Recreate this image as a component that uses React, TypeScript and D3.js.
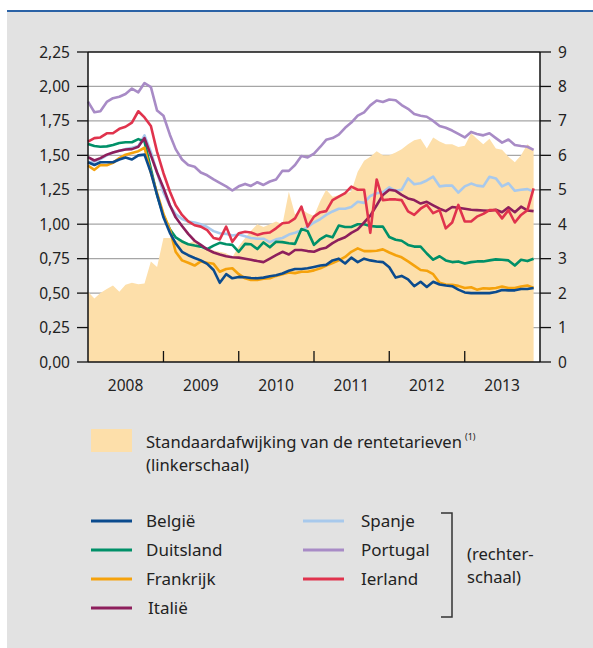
import * as d3 from "d3"
import React from "react"

// monthly observations, Jan 2008 .. Dec 2013
const months = d3.timeMonths(new Date(2008, 0, 1), new Date(2014, 0, 1))
const years = ["2008", "2009", "2010", "2011", "2012", "2013"]
const leftTicks = [0, 0.25, 0.5, 0.75, 1, 1.25, 1.5, 1.75, 2, 2.25]
const rightTicks = [0, 1, 2, 3, 4, 5, 6, 7, 8, 9]

// standard deviation (left scale)
const spread = [
  0.51, 0.46, 0.50, 0.53, 0.555, 0.51, 0.56, 0.575, 0.565, 0.57, 0.73, 0.69,
  0.90, 0.90, 0.88, 0.89, 0.86, 0.88, 0.82, 0.83, 0.81, 0.80, 0.79, 0.76,
  0.84, 0.90, 0.95, 1.00, 0.98, 1.00, 1.02, 1.00, 1.236, 1.07, 1.11, 1.08,
  1.06, 1.17, 1.25, 1.20, 1.21, 1.22, 1.24, 1.38, 1.46, 1.49, 1.53, 1.50,
  1.50, 1.52, 1.545, 1.58, 1.61, 1.62, 1.55, 1.63, 1.60, 1.58, 1.58, 1.56,
  1.57, 1.66, 1.62, 1.58, 1.62, 1.55, 1.54, 1.49, 1.45, 1.50, 1.58, 1.54,
]

// interest rates (right scale)
const belgie = [
  5.8, 5.72, 5.8, 5.8, 5.8, 5.88, 5.94, 5.88, 6.0, 6.02, 5.5, 4.85,
  4.2, 3.75, 3.45, 3.2, 3.1, 3.02, 2.95, 2.85, 2.67, 2.3, 2.55, 2.43,
  2.47, 2.46, 2.44, 2.43, 2.45, 2.49, 2.52, 2.57, 2.65, 2.7, 2.7, 2.72,
  2.76, 2.8, 2.82, 2.95, 3.0, 2.86, 3.03, 2.9, 3.0, 2.95, 2.92, 2.9,
  2.75, 2.45, 2.5, 2.4, 2.2, 2.33, 2.18, 2.33, 2.25, 2.22, 2.2, 2.1,
  2.02, 2.0, 2.0, 2.0, 2.0, 2.03, 2.09, 2.08, 2.08, 2.12, 2.12, 2.15,
]
const duitsland = [
  6.33, 6.27, 6.25, 6.26, 6.3, 6.36, 6.38, 6.38, 6.47, 6.4, 5.6, 4.85,
  4.25, 3.85, 3.62, 3.5, 3.42, 3.38, 3.35, 3.28, 3.38, 3.46, 3.42, 3.4,
  3.2, 3.43, 3.42, 3.28, 3.47, 3.33, 3.49, 3.48, 3.45, 3.43, 3.86, 3.8,
  3.4, 3.57, 3.67, 3.62, 3.96, 3.92, 3.92, 4.0, 4.0, 3.95, 3.93, 3.93,
  3.63, 3.55, 3.52, 3.4, 3.35, 3.35, 3.15, 2.97, 3.07, 2.95, 2.9, 2.92,
  2.86, 2.9, 2.92, 2.92, 2.95, 2.98, 2.97, 2.95, 2.8, 2.97, 2.93, 3.0,
]
const frankrijk = [
  5.7, 5.58, 5.72, 5.71, 5.78, 5.92, 6.02, 6.07, 6.12, 6.22, 5.5, 4.9,
  4.3, 3.85, 3.2, 2.95, 2.88, 2.8, 2.92, 2.88, 2.85, 2.62, 2.7, 2.72,
  2.55, 2.43, 2.38, 2.38, 2.42, 2.43, 2.5, 2.55, 2.6, 2.58, 2.62, 2.62,
  2.66, 2.72, 2.8, 2.87, 2.95, 3.05, 3.2, 3.3, 3.22, 3.22, 3.23, 3.27,
  3.18, 3.1, 3.04, 2.92, 2.8, 2.67, 2.65, 2.55, 2.3, 2.25, 2.24, 2.21,
  2.15, 2.17, 2.1, 2.14, 2.13, 2.15, 2.19, 2.15, 2.15, 2.19, 2.22, 2.15,
]
const italie = [
  5.95, 5.85, 5.92, 6.02, 6.08, 6.13, 6.17, 6.18, 6.25, 6.5, 6.0, 5.5,
  5.05, 4.55, 4.2, 3.95, 3.72, 3.52, 3.4, 3.27, 3.18, 3.12, 3.07, 3.04,
  3.03, 3.0, 2.97, 2.93, 2.9, 3.0, 3.1, 3.2, 3.12, 3.25, 3.25, 3.22,
  3.2, 3.28, 3.32, 3.45, 3.55, 3.62, 3.75, 3.85, 4.05, 4.25, 4.55, 4.85,
  5.0, 4.97, 4.85, 4.75, 4.7, 4.6, 4.65, 4.55, 4.45, 4.38, 4.5, 4.48,
  4.45, 4.42, 4.41, 4.4, 4.39, 4.42, 4.35, 4.49, 4.35, 4.51, 4.4, 4.38,
]
const spanje = [
  5.8, 5.82, 5.89, 6.0, 6.08, 6.13, 6.18, 6.22, 6.27, 6.58, 6.1, 5.5,
  4.92, 4.54, 4.3, 4.15, 4.08, 4.05, 4.0, 3.92, 3.8, 3.74, 3.72, 3.67,
  3.7, 3.65, 3.6, 3.58, 3.58, 3.48, 3.56, 3.6, 3.7, 3.75, 3.82, 3.92,
  4.05, 4.15, 4.27, 4.37, 4.45, 4.45, 4.5, 4.65, 4.62, 4.82, 4.9, 4.93,
  5.07, 4.97, 5.0, 5.33, 5.16, 5.19, 5.27, 5.38, 5.1, 5.12, 5.12, 4.92,
  5.1, 5.18, 5.12, 5.1, 5.38, 5.33, 5.1, 5.19, 4.97, 5.0, 5.02, 4.95,
]
const portugal = [
  7.56, 7.25, 7.28, 7.55, 7.66, 7.7, 7.78, 7.94, 7.83, 8.1, 7.98, 7.3,
  7.15, 6.6, 6.18, 5.88, 5.72, 5.67, 5.5, 5.42, 5.3, 5.2, 5.1, 4.98,
  5.1, 5.17, 5.11, 5.22, 5.14, 5.24, 5.3, 5.55, 5.55, 5.72, 5.98, 5.94,
  6.05, 6.25, 6.45, 6.5, 6.6, 6.8, 6.95, 7.15, 7.25, 7.45, 7.59, 7.55,
  7.62, 7.6, 7.46, 7.35, 7.2, 7.15, 7.12, 7.0, 6.85, 6.8, 6.72, 6.62,
  6.52, 6.68, 6.62, 6.58, 6.64, 6.5, 6.37, 6.46, 6.3, 6.27, 6.25, 6.16,
]
const ierland = [
  6.4, 6.5, 6.52, 6.64, 6.64, 6.77, 6.83, 6.95, 7.28, 7.1, 6.85, 6.1,
  5.48, 4.95, 4.55, 4.27, 4.08, 3.97, 3.93, 3.83, 3.6, 3.56, 3.93, 3.49,
  3.74, 3.78, 3.76, 3.69, 3.74, 3.76, 3.88, 4.03, 4.05, 4.17, 4.51, 3.93,
  4.22, 4.35, 4.38, 4.7, 4.8, 4.9, 5.09, 5.0, 5.0, 3.75, 5.3, 4.7,
  4.72, 4.72, 4.7, 4.37, 4.27, 4.45, 4.56, 4.32, 4.41, 3.88, 4.05, 4.56,
  4.08, 4.08, 4.22, 4.3, 4.41, 4.41, 4.17, 4.41, 4.05, 4.27, 4.41, 5.04,
]

const series = [
  { name: "Portugal", values: portugal, color: "#a88bc6" },
  { name: "Spanje", values: spanje, color: "#a8c9ec" },
  { name: "Duitsland", values: duitsland, color: "#009068" },
  { name: "Frankrijk", values: frankrijk, color: "#f5a20c" },
  { name: "België", values: belgie, color: "#0b4b8e" },
  { name: "Italië", values: italie, color: "#8d1f5c" },
  { name: "Ierland", values: ierland, color: "#e0334d" },
]
const legendLeft = ["België", "Duitsland", "Frankrijk", "Italië"]
const legendRight = ["Spanje", "Portugal", "Ierland"]

const W = 593
const H = 648
const m = { left: 88, right: 540, top: 52, bottom: 362 }
const font = "'Noto Sans', 'Open Sans', sans-serif"
const ink = "#222"

export default function App() {
  const x = d3.scaleTime()
    .domain([new Date(2008, 0, 1), new Date(2014, 0, 1)])
    .range([m.left, m.right])
  const yL = d3.scaleLinear().domain([0, 2.25]).range([m.bottom, m.top])
  const yR = d3.scaleLinear().domain([0, 9]).range([m.bottom, m.top])

  const area = d3.area<number>()
    .x((_, i) => x(months[i]))
    .y0(m.bottom)
    .y1(d => yL(d))
  const line = d3.line<number>()
    .x((_, i) => x(months[i]))
    .y(d => yR(d))

  const colorOf = (n: string) => series.find(s => s.name === n)!.color
  const yearTicks = years.slice(1).map(y => new Date(+y, 0, 1))

  return (
    <svg width={W} height={H} style={{ position: "absolute", left: 0, top: 0 }} fontFamily={font}>
      <rect x={0} y={0} width={W} height={H} fill="#fff" />
      <rect x={7} y={11} width={W - 7} height={H - 11} fill="#e2e2e2" />
      <rect x={7} y={10} width={W - 7} height={2} fill="#2a62a6" />

      <rect x={m.left} y={m.top} width={m.right - m.left} height={m.bottom - m.top} fill="#fff" />
      {leftTicks.slice(1, -1).map(t => (
        <line key={t} x1={m.left} x2={m.right} y1={yL(t)} y2={yL(t)} stroke="#a6a6a6" strokeWidth={1.3} />
      ))}
      <path d={area(spread)!} fill="#fddfaa" />

      {series.map(s => (
        <path key={s.name} d={line(s.values)!} fill="none" stroke={s.color}
          strokeWidth={2.6} strokeLinejoin="round" />
      ))}

      {/* frame and axes */}
      <line x1={m.left} x2={m.right} y1={m.top} y2={m.top} stroke="#111" strokeWidth={1.5} />
      <line x1={m.left} x2={m.right} y1={m.bottom} y2={m.bottom} stroke="#111" strokeWidth={1.5} />
      <line x1={m.left} x2={m.left} y1={m.top} y2={m.bottom} stroke="#111" strokeWidth={1.5} />
      <line x1={m.right} x2={m.right} y1={m.top} y2={m.bottom} stroke="#111" strokeWidth={1.5} />

      {leftTicks.map(t => (
        <g key={t}>
          <line x1={m.left - 11} x2={m.left} y1={yL(t)} y2={yL(t)} stroke="#111" strokeWidth={1.3} />
          <text x={70} y={yL(t)} dy="0.36em" textAnchor="end" fontSize={15.5} fill={ink}>
            {d3.format(".2f")(t).replace(".", ",")}
          </text>
        </g>
      ))}
      {rightTicks.map(t => (
        <g key={t}>
          <line x1={m.right} x2={m.right + 11} y1={yR(t)} y2={yR(t)} stroke="#111" strokeWidth={1.3} />
          <text x={558} y={yR(t)} dy="0.36em" fontSize={15.5} fill={ink}>{t}</text>
        </g>
      ))}
      {yearTicks.map((d, i) => (
        <line key={i} x1={x(d)} x2={x(d)} y1={m.bottom - 11} y2={m.bottom} stroke="#111" strokeWidth={1.3} />
      ))}
      {years.map(y => (
        <text key={y} x={x(new Date(+y, 6, 1))} y={391} textAnchor="middle" fontSize={15.5} fill={ink}>{y}</text>
      ))}

      {/* legend */}
      <rect x={91} y={429} width={41} height={23} fill="#fddfaa" />
      <text x={146} y={448} fontSize={16.6} fill={ink}>
        Standaardafwijking van de rentetarieven
        <tspan fontSize={9} dx={3} dy={-8}>(1)</tspan>
      </text>
      <text x={146} y={471} fontSize={16.6} fill={ink}>(linkerschaal)</text>

      {legendLeft.map((n, i) => (
        <g key={n}>
          <line x1={91} x2={132} y1={521 + i * 29} y2={521 + i * 29} stroke={colorOf(n)} strokeWidth={3} />
          <text x={n === "Italië" ? 148 : 146} y={527 + i * 29} fontSize={17} fill={ink}>{n}</text>
        </g>
      ))}
      {legendRight.map((n, i) => (
        <g key={n}>
          <line x1={303} x2={344} y1={521 + i * 29} y2={521 + i * 29} stroke={colorOf(n)} strokeWidth={3} />
          <text x={361} y={527 + i * 29} fontSize={17} fill={ink}>{n}</text>
        </g>
      ))}
      <path d="M441,513H452V617H441" fill="none" stroke="#333" strokeWidth={1.5} />
      <text x={467} y={560} fontSize={16.6} fill={ink}>(rechter-</text>
      <text x={467} y={583} fontSize={16.6} fill={ink}>schaal)</text>
    </svg>
  )
}
